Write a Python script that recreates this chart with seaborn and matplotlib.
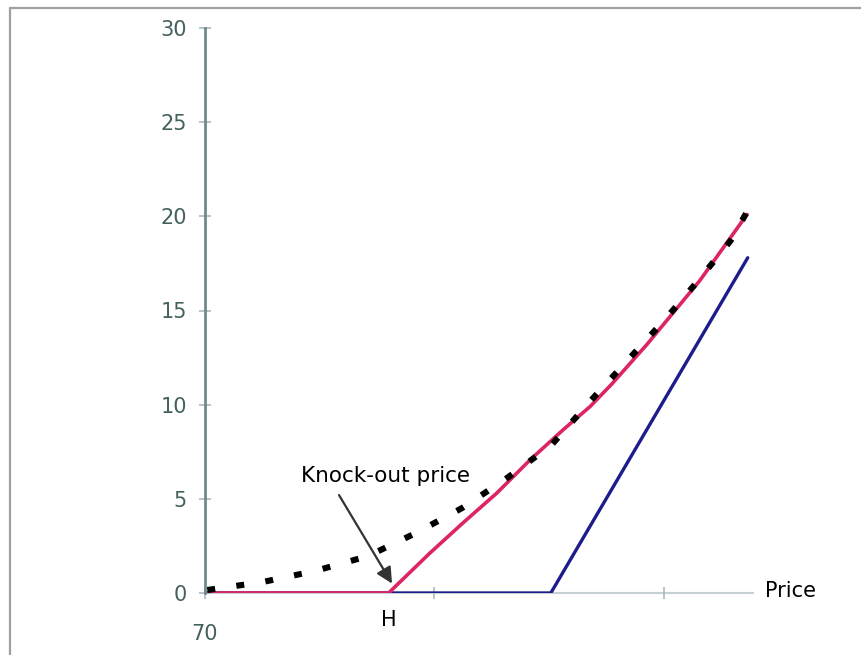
import numpy as np
import pandas as pd
import seaborn as sns
import matplotlib.pyplot as plt
from matplotlib.lines import Line2D

# values
price_dotted = [70.1, 72.5, 74.8, 77.1, 79.2, 81.2, 83.1, 85.1, 86.8, 88.6, 90.1, 91.5, 92.9, 93.6]
value_dotted = [0.16, 0.58, 1.17, 1.96, 3.19, 4.51, 6.05, 7.86, 10.2, 12.6, 14.6, 16.6, 18.7, 20.2]
price_knock = [70.0, 78.0, 79.8, 81.24, 82.72, 84.16, 85.6, 86.78, 87.73, 89.26, 91.57, 93.62]
value_knock = [0.0, 0.0, 2.12, 3.72, 5.31, 7.06, 8.66, 9.9, 11.1, 13.2, 16.6, 20.1]
price_call = [70.0, 85.07, 93.65]
value_call = [0.0, 0.0, 17.8]
barrier = 78.0
yticks = [0, 5, 10, 15, 20, 25, 30]
xticks = [70, 80, 90]
xtick_labels = ['70', '', '']

dotted = pd.DataFrame({'price': price_dotted, 'value': value_dotted})
knock = pd.DataFrame({'price': price_knock, 'value': value_knock})
call = pd.DataFrame({'price': price_call, 'value': value_call})

sns.set_style('white')
plt.rcParams['font.family'] = ['DejaVu Sans']

fig = plt.figure(figsize=(8.62, 6.55), dpi=100)
ax = fig.add_axes([205/862, 62/655, 548/862, 565/655])

sns.lineplot(x='price', y='value', data=call, ax=ax, color='#1c1c8c', linewidth=2.4, sort=False)
sns.lineplot(x='price', y='value', data=knock, ax=ax, color='#dc2467', linewidth=2.6, sort=False)
sns.lineplot(x='price', y='value', data=dotted, ax=ax, color='black', linewidth=4.4,
             linestyle=(0, (1.3, 3.5)), sort=False)

ax.set_xlim(70, 93.88)
ax.set_ylim(0, 30)
ax.set_xlabel('')
ax.set_ylabel('')

for s in ['top', 'right']:
    ax.spines[s].set_visible(False)
ax.spines['left'].set_color('#6f8a8e')
ax.spines['left'].set_linewidth(2.0)
ax.spines['bottom'].set_color('#c5d0d2')
ax.spines['bottom'].set_linewidth(1.5)
ax.spines['bottom'].set_zorder(0)

ax.set_yticks(yticks)
ax.set_yticklabels([str(v) for v in yticks])
ax.set_xticks(xticks)
ax.set_xticklabels(xtick_labels)
ax.tick_params(axis='y', direction='inout', length=8, width=1.2, color='#a9babd',
               labelsize=15, labelcolor='#44605f', pad=9, left=True)
ax.tick_params(axis='x', direction='inout', length=9, width=1.2, color='#a9babd',
               labelsize=15, labelcolor='#44605f', pad=18, bottom=True)

ax.text(barrier, -1.45, 'H', ha='center', va='center', fontsize=15, color='black')
ax.text(95.5, 0.1, 'Price', ha='center', va='center', fontsize=15, color='black',
        clip_on=False)
ax.text(77.85, 6.2, 'Knock-out price', ha='center', va='center', fontsize=15.5, color='black')
ax.annotate('', xy=(78.15, 0.5), xytext=(75.84, 5.2),
            arrowprops=dict(arrowstyle='-|>', color='#333333', lw=1.6,
                            mutation_scale=24, shrinkA=0, shrinkB=0))

# grey frame at the top and left of the picture
fig.add_artist(Line2D([10.5/862, 1], [1 - 7.5/655, 1 - 7.5/655], transform=fig.transFigure,
                      color='#a0a0a0', linewidth=1.6))
fig.add_artist(Line2D([10.5/862, 10.5/862], [0, 1 - 7.5/655], transform=fig.transFigure,
                      color='#a0a0a0', linewidth=1.6))

fig.savefig('out.png', dpi=100)
